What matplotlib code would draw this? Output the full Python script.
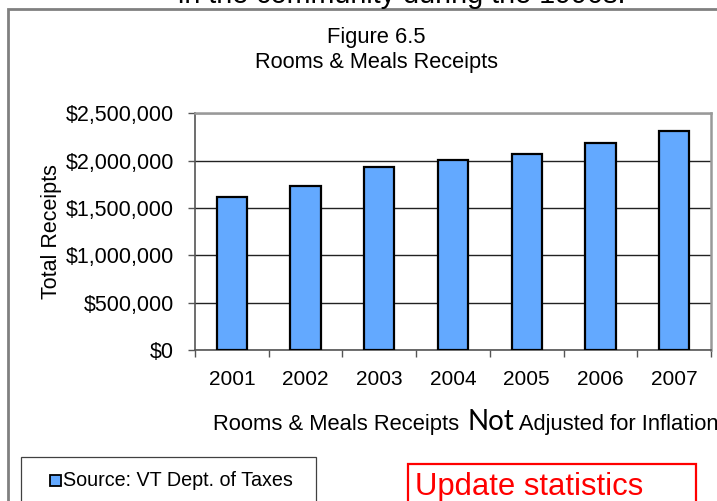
import matplotlib
matplotlib.use("Agg")
import matplotlib.pyplot as plt
from matplotlib.patches import Rectangle
from matplotlib.ticker import FuncFormatter

years = ["2001", "2002", "2003", "2004", "2005", "2006", "2007"]
receipts = [1620000, 1737000, 1930000, 2007000, 2070000, 2186000, 2310000]
y_ticks = [0, 500000, 1000000, 1500000, 2000000, 2500000]

W, H = 717, 501
plt.rcParams['font.family'] = ['Liberation Sans', 'DejaVu Sans']

fig = plt.figure(figsize=(W / 100, H / 100), dpi=100)
fig.patch.set_facecolor('white')

def fx(px):
    return px / W

def fy(py):
    return 1 - py / H

# outer chart frame (gray, extends beyond image)
fig.add_artist(Rectangle((fx(8), fy(H + 40)), fx(800), (H + 40 - 9) / H,
                         transform=fig.transFigure, fill=False,
                         edgecolor='#808080', linewidth=2.0, clip_on=False))

# clipped text above (cut off in the reference as well)
fig.text(fx(402), fy(3), "in the community during the 1990s.", ha='center',
         va='baseline', fontsize=20.7, color='black')

# plot area
ax = fig.add_axes([fx(195), fy(350), fx(711) - fx(195), fy(113.5) - fy(350)])
x = list(range(len(years)))
ax.bar(x, receipts, width=0.41, color='#63A9FF', edgecolor='black',
       linewidth=1.6, zorder=3)
ax.set_xlim(-0.5, len(years) - 0.5)
ax.set_ylim(0, 2500000)
ax.set_yticks(y_ticks)
ax.yaxis.set_major_formatter(FuncFormatter(lambda v, p: "${:,.0f}".format(v)))
ax.set_xticks(x)
ax.set_xticklabels(years)
ax.set_xticks([i - 0.5 for i in range(len(years) + 1)], minor=True)
ax.tick_params(axis='x', which='major', length=0, pad=14.5, labelsize=15)
ax.tick_params(axis='x', which='minor', length=5, width=1, color='#555555',
               direction='out')
ax.tick_params(axis='y', which='major', length=5, width=1, color='#555555',
               direction='out', pad=10, labelsize=15.5)
ax.grid(axis='y', color='#222222', linewidth=1.0, zorder=0)
ax.set_axisbelow(True)
for s in ['top', 'right']:
    ax.spines[s].set_color('#999999')
    ax.spines[s].set_linewidth(1.8)
for s in ['left', 'bottom']:
    ax.spines[s].set_color('#555555')
    ax.spines[s].set_linewidth(1.2)

fig.text(fx(51), fy(232), "Total Receipts", rotation=90, ha='center',
         va='center', fontsize=15.5)

# titles
fig.text(fx(376.5), fy(37.5), "Figure 6.5", ha='center', va='center', fontsize=15.8)
fig.text(fx(376.5), fy(62.5), "Rooms & Meals Receipts", ha='center', va='center',
         fontsize=15.7)

# bottom note with mixed font sizes
fig.canvas.draw()
r = fig.canvas.get_renderer()
t1 = fig.text(fx(213), fy(430), "Rooms & Meals Receipts ", ha='left',
              va='baseline', fontsize=15.8)
bb = t1.get_window_extent(r)
t2 = fig.text(bb.x1 / W + fx(2), fy(430), "Not", ha='left', va='baseline',
              fontsize=20, family=['Lato', 'DejaVu Sans'])
bb2 = t2.get_window_extent(r)
fig.text(bb2.x1 / W, fy(430), " Adjusted for Inflation", ha='left',
         va='baseline', fontsize=15.8)

# legend box
fig.add_artist(Rectangle((fx(20.7), fy(H + 20)), fx(315.7 - 20.7),
                         (H + 20 - 457.3) / H, transform=fig.transFigure,
                         fill=False, edgecolor='#404040', linewidth=0.9,
                         clip_on=False))
fig.add_artist(Rectangle((fx(50), fy(486)), fx(11), 11 / H,
                         transform=fig.transFigure, facecolor='#63A9FF',
                         edgecolor='black', linewidth=1.3))
fig.text(fx(63), fy(486), "Source: VT Dept. of Taxes", ha='left', va='baseline',
         fontsize=14.2)

# red box
fig.add_artist(Rectangle((fx(408.3), fy(H + 20)), fx(695.7 - 408.3),
                         (H + 20 - 464) / H, transform=fig.transFigure,
                         fill=False, edgecolor='#FF0000', linewidth=1.6,
                         clip_on=False))
fig.text(fx(415), fy(495), "Update statistics", ha='left', va='baseline',
         fontsize=22.3, color='#FF0000')

fig.savefig("out.png", dpi=100)
